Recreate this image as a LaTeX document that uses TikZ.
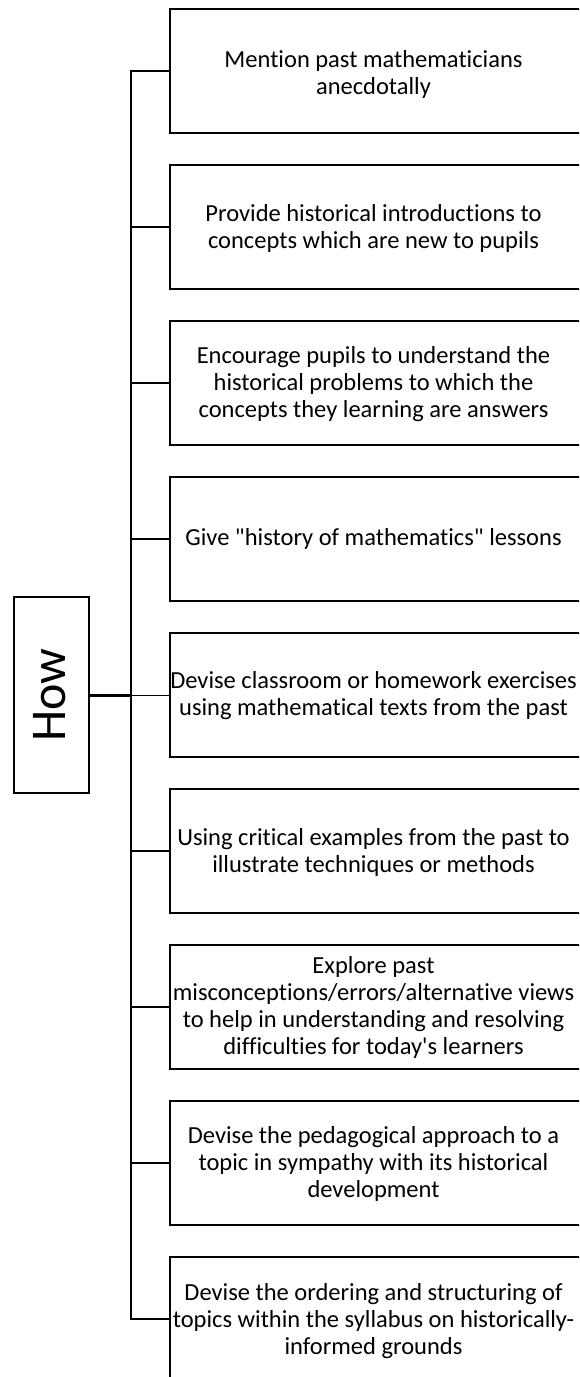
\documentclass[tikz,border=0pt]{standalone}
\usepackage{fontspec}
\setmainfont{Carlito}[Ligatures={TeXOff,CommonOff}]
\begin{document}
\begin{tikzpicture}[x=1pt,y=-1pt,
  itembox/.style={draw=black,line width=2pt},
  itemtext/.style={align=center,font=\fontsize{24.5}{27}\selectfont,inner sep=0pt},
  link/.style={line width=2pt},
  howbox/.style={draw=black,line width=2pt,minimum width=75pt,minimum height=196pt,inner sep=0pt},
]
\useasboundingbox (0,0) rectangle (579,1377);
\clip (0,0) rectangle (579,1377);
\fill[white] (0,0) rectangle (579,1377);

% the central "How" box
\node[howbox] (how) at (51.5,695) {};
\node[rotate=90,font=\fontsize{50}{52}\selectfont,inner sep=0pt] (howlabel) at (50,695) {How};

% item boxes: left edge 170, height 124, pitch 156
\foreach \i/\dy/\txt in {
  1/3/{Mention past mathematicians\\anecdotally},
  2/1/{Provide historical introductions to\\concepts which are new to pupils},
  3/1/{Encourage pupils to understand the\\historical problems to which the\\concepts they learning are answers},
  4/0/{Give "history of mathematics" lessons},
  5/1/{Devise classroom or homework exercises\\using mathematical texts from the past},
  6/1/{Using critical examples from the past to\\illustrate techniques or methods},
  7/0/{Explore past\\misconceptions/errors/alternative views\\to help in understanding and resolving\\difficulties for today's learners},
  8/1/{Devise the pedagogical approach to a\\topic in sympathy with its historical\\development},
  9/2/{Devise the ordering and structuring of\\topics within the syllabus on historically-\\informed grounds}} {
  \pgfmathsetmacro{\ytop}{9+156*(\i-1)}
  \pgfmathsetmacro{\ymid}{\ytop+62}
  \draw[itembox] (170,\ytop) rectangle (600,\ytop+124);
  \coordinate (b\i) at (170,\ymid);
  \coordinate (s\i) at (130.5,\ymid);
  \node[itemtext] (t\i) at (373.5,\ymid+\dy) {\txt};
}

% spine and branches
\draw[link] (b1) -- (s1) -- (s9) -- (b9);
\foreach \i in {2,3,4,6,7,8} {
  \draw[link] (s\i) -- (b\i);
}
\draw[line width=3pt] (how.east) -- (s5);
\draw[line width=1pt] (s5) -- (b5);
\end{tikzpicture}
\end{document}
